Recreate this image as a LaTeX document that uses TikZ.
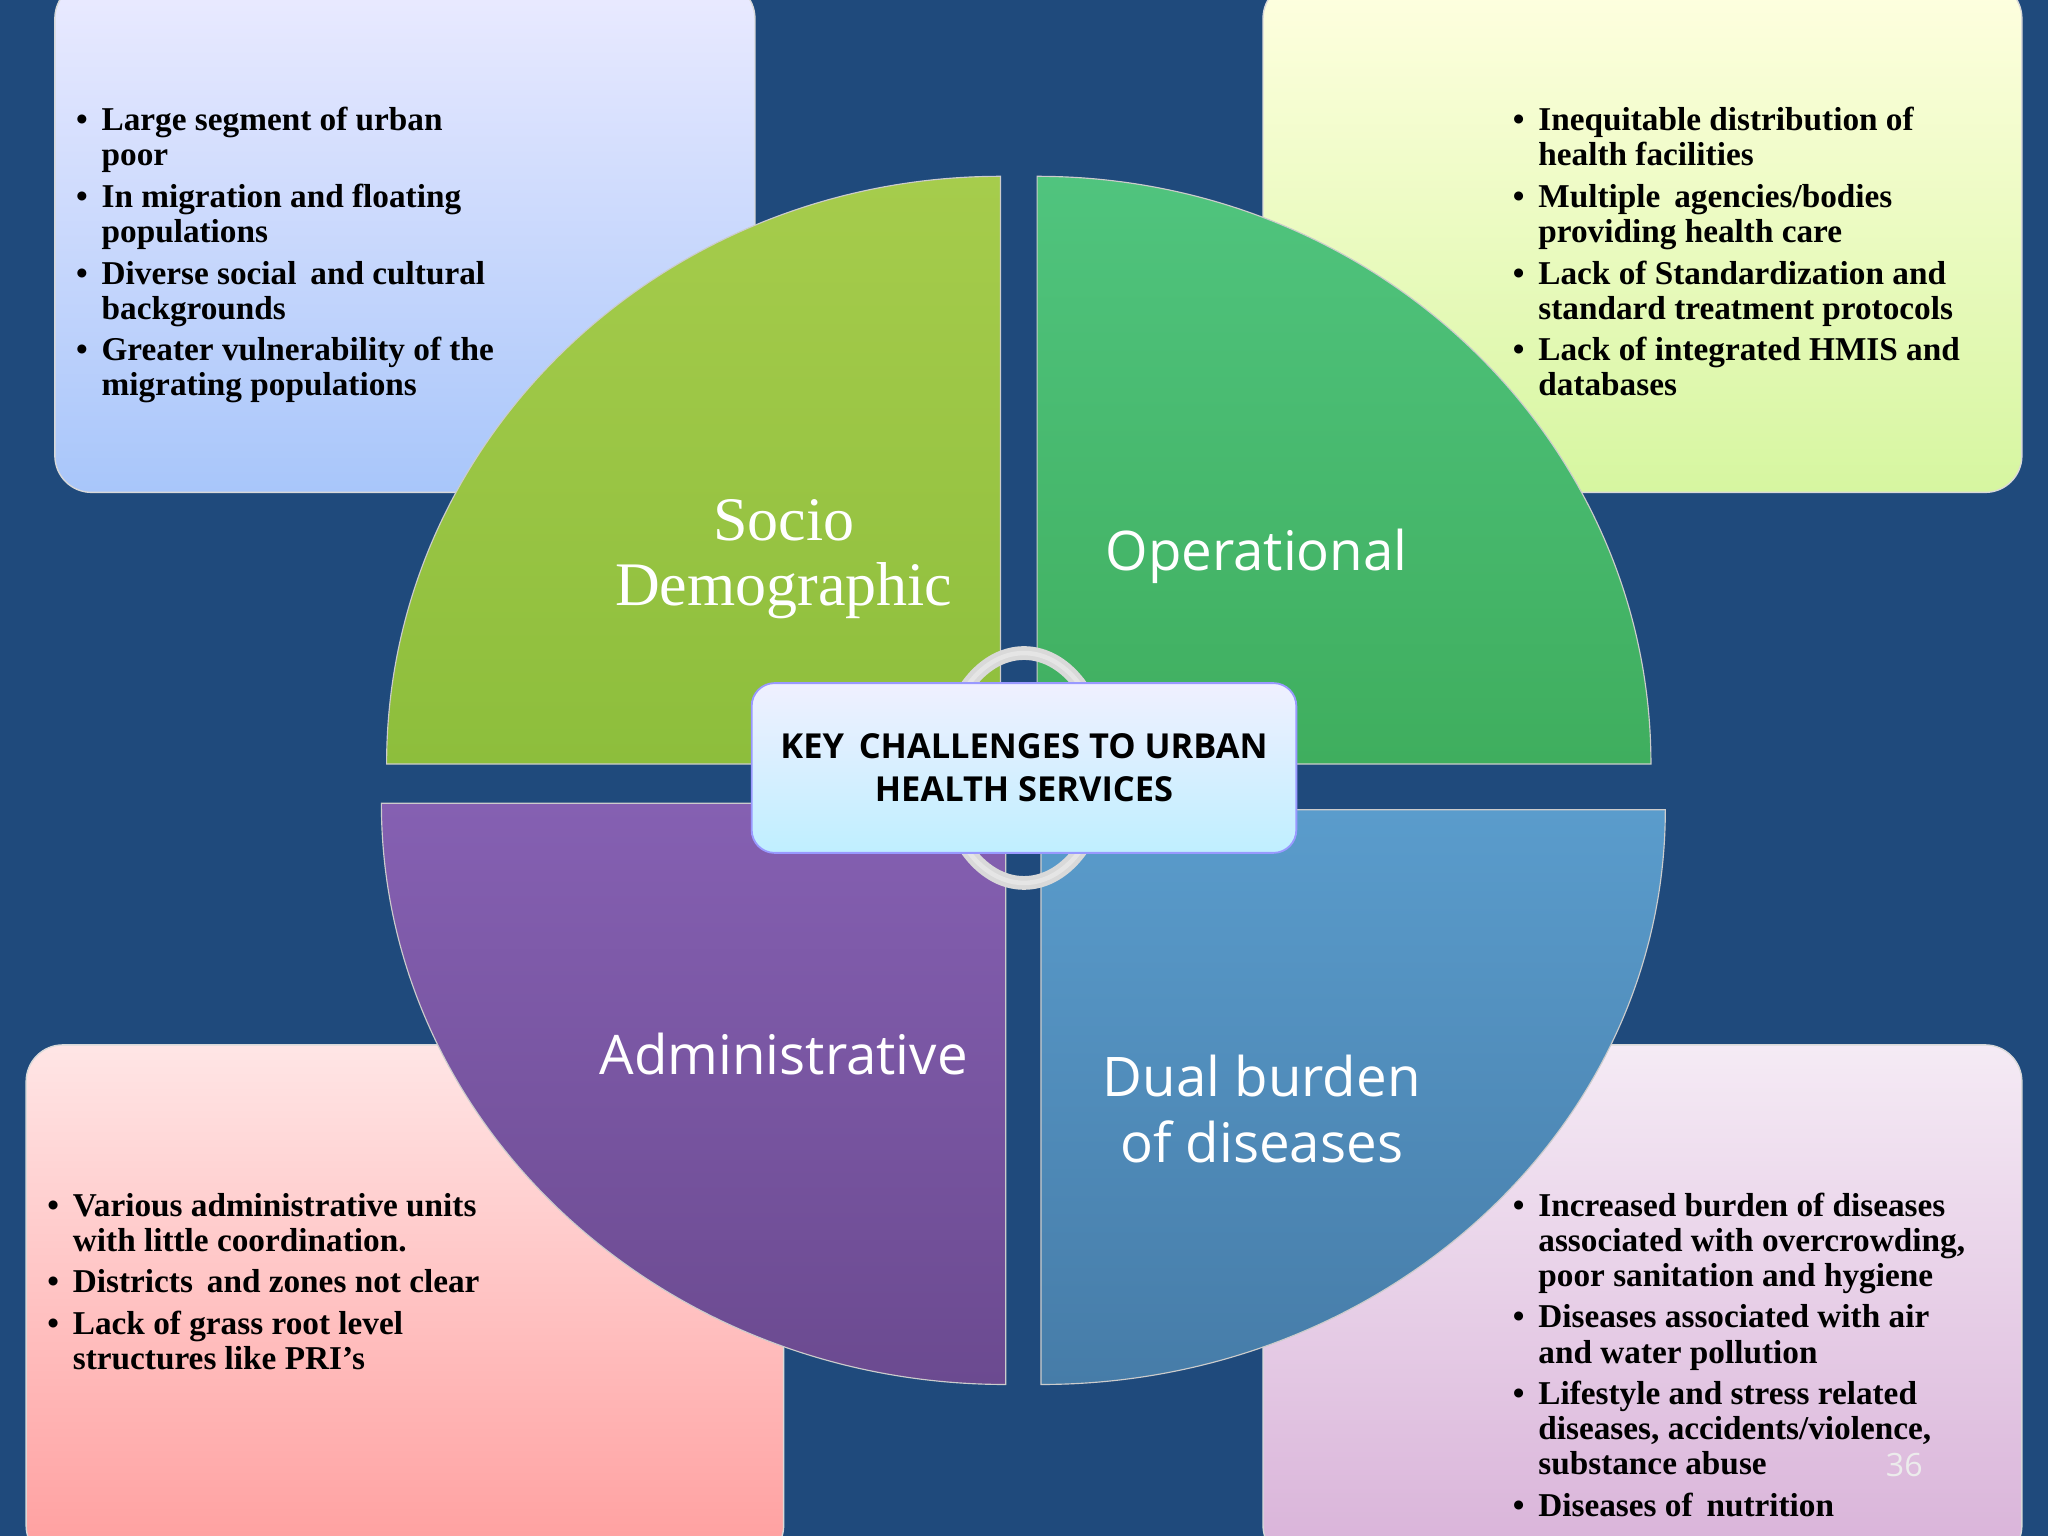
\documentclass[tikz,border=0pt]{standalone}
\usepackage{fontspec}
\setmainfont{Liberation Serif}
\newfontfamily\osans{Open Sans}
\usetikzlibrary{shapes.geometric}
\definecolor{bg}{HTML}{1F4A7C}
\definecolor{tlA}{HTML}{A6CC4C}\definecolor{tlB}{HTML}{8DBE3C}
\definecolor{trA}{HTML}{50C47E}\definecolor{trB}{HTML}{3FAE5E}
\definecolor{blA}{HTML}{8560B2}\definecolor{blB}{HTML}{6B4A90}
\definecolor{brA}{HTML}{5A9CCC}\definecolor{brB}{HTML}{467CA8}
\tikzset{
  infobox/.style={rounded corners=16pt, draw=white!70!gray, line width=0.6pt},
  quad/.style={draw=white!60!gray, line width=0.5pt},
  bultext/.style={anchor=north west, inner sep=0pt, font=\fontsize{14.5}{15.3}\selectfont\bfseries, align=left},
  qlabel/.style={text=white, font=\osans\fontsize{23.8}{28.5}\selectfont, align=center},
  slabel/.style={text=white, font=\fontsize{27}{28.5}\selectfont, align=center}
}
\newcommand{\bl}{\textbullet}
\begin{document}
\begin{tikzpicture}[x=0.02cm,y=0.02cm]
\fill[bg] (0,0) rectangle (1568,1176);
\useasboundingbox (0,0) rectangle (1568,1176);
% info boxes
\shade[infobox, top color=blue!8!white, bottom color={rgb,255:red,168;green,198;blue,250}] (42,799) rectangle (578,1190);
\shade[infobox, top color=yellow!12!white, bottom color={rgb,255:red,214;green,246;blue,160}] (967,799) rectangle (1548,1190);
\shade[infobox, top color=red!10!white, bottom color=red!38!white] (20,-20) rectangle (600,376);
\shade[infobox, top color=violet!8!white, bottom color=violet!30!white] (967,-20) rectangle (1548,376);
% quadrants
\shade[quad, top color=tlA, bottom color=tlB] (766,591) -- ++(-470,0) arc[start angle=180,end angle=90,x radius=470,y radius=450] -- cycle;
\shade[quad, top color=trA, bottom color=trB] (794,591) -- ++(0,450) arc[start angle=90,end angle=0,x radius=470,y radius=450] -- cycle;
\shade[quad, top color=blA, bottom color=blB] (770,561) -- ++(-478,0) arc[start angle=180,end angle=270,x radius=478,y radius=445] -- cycle;
\shade[quad, top color=brA, bottom color=brB] (797,556) -- ++(478,0) arc[start angle=0,end angle=-90,x radius=478,y radius=440] -- cycle;
% ring
\draw[gray!30, line width=6pt] (784,588) ellipse[x radius=62, y radius=88];
\draw[white!80!gray, line width=2pt] (784,588) ellipse[x radius=62, y radius=88];
% center box
\node[draw=white!60!blue, line width=0.8pt, rounded corners=10pt, top color=blue!6!white, bottom color=blue!25!cyan!25!white,
  minimum width=417*0.02cm, minimum height=130*0.02cm, align=center,
  font=\osans\bfseries\fontsize{15}{18.7}\selectfont] (center) at (784,588) {KEY\, CHALLENGES TO URBAN\\HEALTH SERVICES};
% quadrant labels
\node[slabel] (socio) at (600,748) {Socio\\Demographic};
\node[qlabel] (oper) at (962,750) {Operational};
\node[qlabel] (admin) at (600,369) {Administrative};
\node[qlabel] (dual) at (966,327) {Dual burden\\ of diseases};
% bullet texts
\node[bultext] (tl) at (58,1176-81) {\begin{tabular}{@{}l@{\hspace{6pt}}l@{}}
\bl & Large segment of urban\\ & poor\\[2.8pt]
\bl & In migration and floating\\ & populations\\[2.8pt]
\bl & Diverse social\, and cultural\\ & backgrounds\\[2.8pt]
\bl & Greater vulnerability of the\\ & migrating populations\end{tabular}};
\node[bultext] (tr) at (1158,1176-81) {\begin{tabular}{@{}l@{\hspace{6pt}}l@{}}
\bl & Inequitable distribution of\\ & health facilities\\[2.8pt]
\bl & Multiple\, agencies/bodies\\ & providing health care\\[2.8pt]
\bl & Lack of Standardization and\\ & standard treatment protocols\\[2.8pt]
\bl & Lack of integrated HMIS and\\ & databases\end{tabular}};
\node[bultext] (blt) at (36,1176-912) {\begin{tabular}{@{}l@{\hspace{6pt}}l@{}}
\bl & Various administrative units\\ & with little coordination.\\[2.8pt]
\bl & Districts\, and zones not clear\\[2.8pt]
\bl & Lack of grass root level\\ & structures like PRI’s\end{tabular}};
\node[bultext] (brt) at (1158,1176-912) {\begin{tabular}{@{}l@{\hspace{6pt}}l@{}}
\bl & Increased burden of diseases\\ & associated with overcrowding,\\ & poor sanitation and hygiene\\[2.8pt]
\bl & Diseases associated with air\\ & and water pollution\\[2.8pt]
\bl & Lifestyle and stress related\\ & diseases, accidents/violence,\\ & substance abuse\\[2.8pt]
\bl & Diseases of\, nutrition\end{tabular}};
\node[text=white!85!gray, font=\osans\fontsize{14}{16}\selectfont] (pg) at (1458,54) {36};
\end{tikzpicture}
\end{document}
